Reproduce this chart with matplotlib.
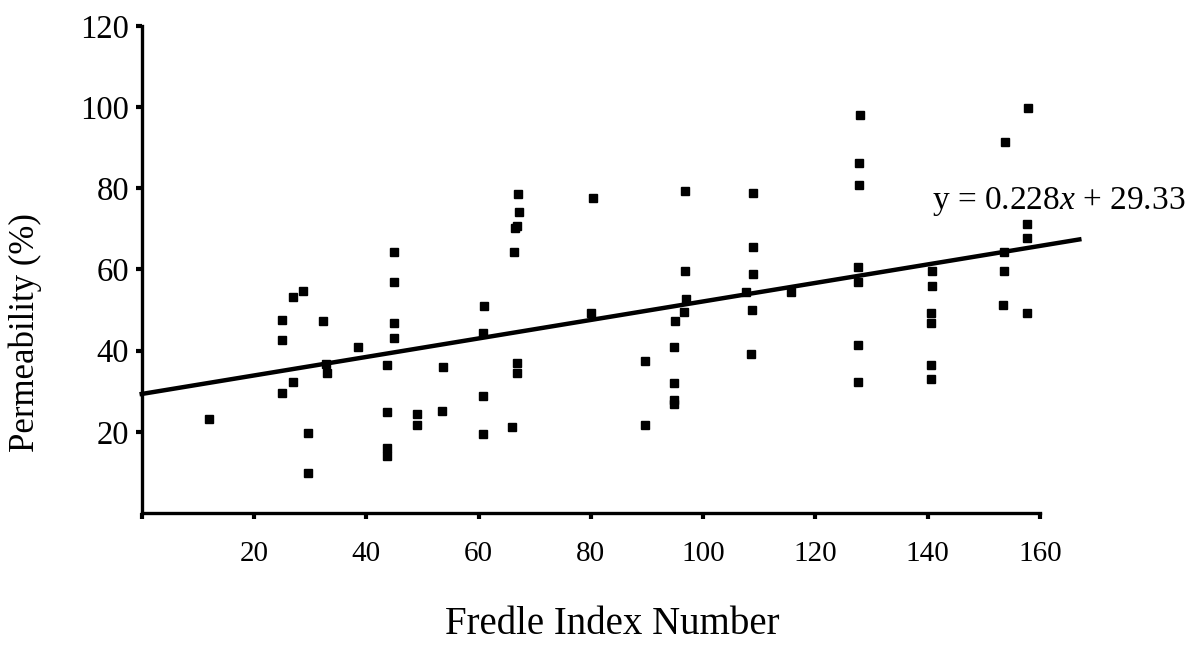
import matplotlib
matplotlib.use("Agg")
import matplotlib.pyplot as plt

plt.rcParams['font.family'] = ['Liberation Serif', 'DejaVu Serif']
plt.rcParams['mathtext.fontset'] = 'custom'
plt.rcParams['mathtext.rm'] = 'Liberation Serif'
plt.rcParams['mathtext.it'] = 'Liberation Serif:italic'

# Fredle index number vs permeability (%)
fredle = [11.9, 25.0, 25.0, 24.9, 26.9, 28.7, 26.9, 29.7, 29.6, 32.3, 32.9, 33.0,
          38.5, 45.0, 44.9, 44.9, 44.9, 43.7, 43.7, 43.6, 43.6, 49.1, 49.1, 53.6,
          53.5, 60.9, 60.8, 60.8, 60.8, 67.1, 67.2, 66.9, 66.4, 66.3, 66.9, 66.9,
          66.0, 80.3, 80.0, 89.7, 89.7, 96.8, 96.7, 96.6, 97.0, 94.9, 94.8, 94.8,
          94.8, 94.8, 108.8, 108.8, 108.8, 107.6, 108.7, 108.5, 115.6, 127.9, 127.8,
          127.8, 127.6, 127.6, 127.5, 127.5, 140.7, 140.7, 140.6, 140.6, 140.6, 140.6,
          153.7, 153.5, 153.5, 153.4, 157.8, 157.7, 157.6, 157.6]
perm = [23.1, 47.5, 42.6, 29.5, 53.2, 54.8, 32.2, 19.7, 9.8, 47.3, 36.8, 34.5,
        41.0, 64.3, 57.0, 46.7, 43.2, 36.5, 24.9, 15.9, 14.0, 24.4, 21.8, 35.9,
        25.1, 51.1, 44.4, 28.8, 19.4, 78.5, 74.1, 70.6, 70.1, 64.2, 37.0, 34.5,
        21.2, 77.5, 49.3, 37.4, 21.8, 79.4, 59.7, 49.6, 52.8, 47.2, 40.9, 32.0,
        27.8, 26.8, 78.8, 65.6, 58.8, 54.5, 50.1, 39.3, 54.4, 98.0, 86.3, 80.8,
        60.5, 56.8, 41.3, 32.4, 59.6, 56.0, 49.4, 46.8, 36.5, 33.0, 91.3, 64.3,
        59.6, 51.2, 99.7, 71.3, 67.8, 49.3]

slope = 0.228
intercept = 29.33
fit_x = [0, 167]
fit_y = [slope * v + intercept for v in fit_x]

xticks = [20, 40, 60, 80, 100, 120, 140, 160]
yticks = [20, 40, 60, 80, 100, 120]

fig = plt.figure(figsize=(11.92, 6.61), dpi=100)
ax = fig.add_axes([0.1189, 0.2239, 0.7536, 0.7368])

ax.plot(fredle, perm, 's', color='black', markersize=5.5)
ax.plot(fit_x, fit_y, '-', color='black', linewidth=3.2, clip_on=False)

ax.set_xlim(0, 160)
ax.set_ylim(0, 120)
ax.set_xticks([0] + xticks)
ax.set_xticklabels([''] + [str(t) for t in xticks])
ax.set_yticks(yticks)
ax.set_yticklabels([str(t) for t in yticks])

for s in ['top', 'right']:
    ax.spines[s].set_visible(False)
for s in ['left', 'bottom']:
    ax.spines[s].set_linewidth(2.4)

ax.tick_params(axis='both', direction='out', length=4, width=3)
ax.tick_params(axis='x', pad=16, labelsize=21)
ax.tick_params(axis='y', pad=5, labelsize=23.5)

ax.set_xlabel('Fredle Index Number', fontsize=28)
ax.xaxis.set_label_coords(0.5235, -0.19)
ax.set_ylabel('Permeability (%)', fontsize=25)
ax.yaxis.set_label_coords(-0.111, 0.37)

ax.text(140.7, 75, 'y = 0.228$\\it{x}$ + 29.33', fontsize=24, ha='left', va='baseline')

fig.savefig('out.png', dpi=100)
